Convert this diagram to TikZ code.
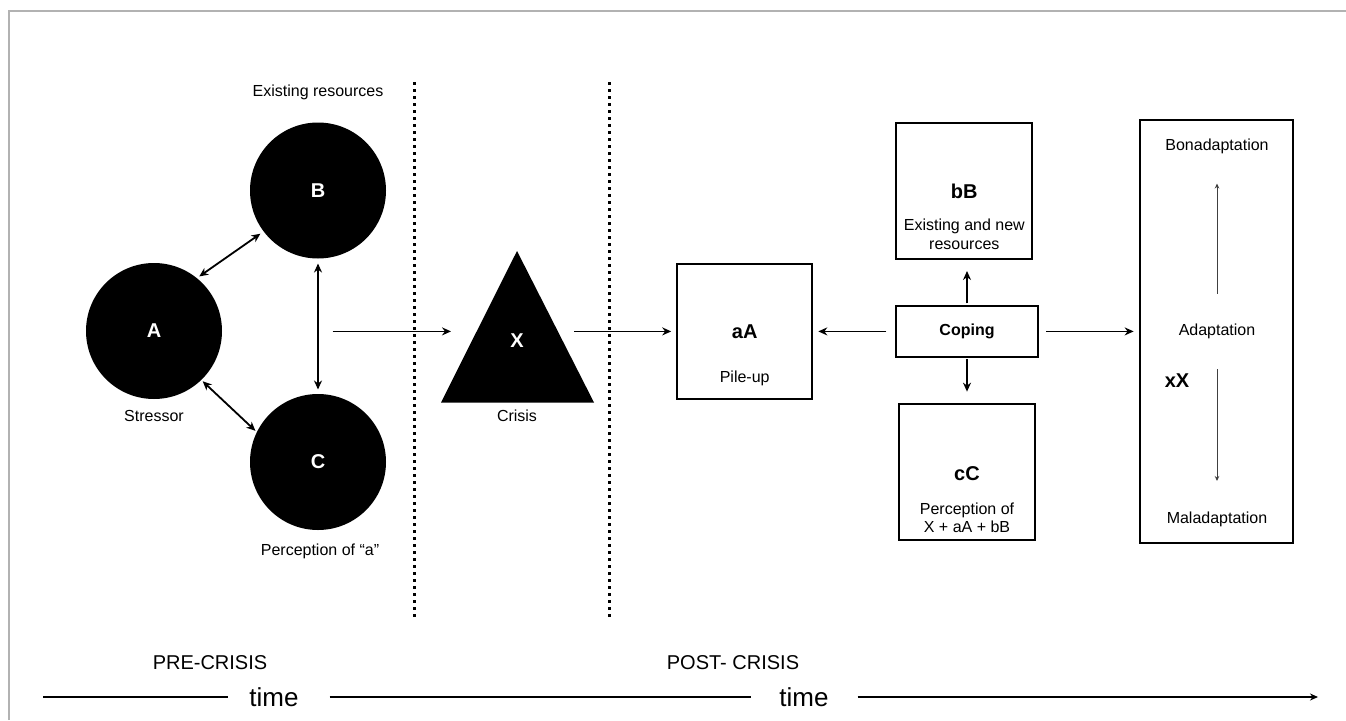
\documentclass[tikz,border=0pt]{standalone}
\usepackage{fontspec}
\setmainfont{Liberation Sans}
\usetikzlibrary{arrows.meta}
\begin{document}
\begin{tikzpicture}[x=1pt,y=-1pt,
  every node/.style={inner sep=0pt, outer sep=0pt},
  ball/.style={circle, fill=black, minimum size=136pt, text=white,
    font=\fontsize{20}{20}\selectfont\bfseries},
  lbl/.style={font=\fontsize{16}{19}\selectfont, align=center},
  big/.style={font=\fontsize{20}{22}\selectfont\bfseries},
  boxnode/.style={draw, line width=2pt},
  conn/.style={line width=1.8pt, -{Stealth[length=9pt,width=8pt]}},
  biconn/.style={line width=1.8pt, {Stealth[length=9pt,width=8pt]}-{Stealth[length=9pt,width=8pt]}},
  finearrow/.style={line width=1pt, draw=black!75, -{Stealth[length=5pt,width=4.5pt]}},
  sepline/.style={line width=3pt, dash pattern=on 3pt off 4pt},
  era/.style={font=\fontsize{20}{22}\selectfont},
  timelbl/.style={font=\fontsize{26}{28}\selectfont},
  axis/.style={line width=2.2pt},
]
\useasboundingbox (0,0) rectangle (1346,720);

% outer frame
\draw[line width=2pt, draw=black!30] (9,720) -- (9,11) -- (1346,11);

% phase separators
\draw[sepline] (414,82) -- (414,618);
\draw[sepline] (609,82) -- (609,618);

% pre-crisis factors
\node[ball] (A) at (154,331) {A};
\node[ball] (B) at (318,190.5) {B};
\node[ball] (C) at (318,462) {C};
\node[lbl] (Blbl) at (318,92.5) {Existing resources};
\node[lbl] (Albl) at (154,415.5) {Stressor};
\node[lbl] (Clbl) at (320,551) {Perception of “a”};

\draw[biconn, shorten <=3pt, shorten >=4pt] (A.51) -- (B.217);
\draw[biconn, shorten <=2pt, shorten >=2pt] (A.-46) -- (C.154);
\draw[biconn, shorten <=5pt, shorten >=4.5pt] (B.south) -- (C.north);

% crisis
\fill (517,251) -- (594,402.5) -- (441,402.5) -- cycle;
\node[text=white, font=\fontsize{20}{20}\selectfont\bfseries] (X) at (517,341) {X};
\node[lbl] (Xlbl) at (517,415.5) {Crisis};

\coordinate (preout) at (332.5,331.4);
\coordinate (xin) at (451,331.4);
\coordinate (xout) at (574,331.4);
\draw[conn] (preout) -- (xin);

% post-crisis boxes
\node[boxnode, minimum width=135.6pt, minimum height=135.3pt] (aA) at (744.5,331.4) {};
\node[big] (aAt) at (744.7,332) {aA};
\node[lbl] (aAl) at (744.7,378.5) {Pile-up};

\node[boxnode, minimum width=136pt, minimum height=136pt] (bB) at (964.3,190.7) {};
\node[big] (bBt) at (964.3,191.7) {bB};
\node[lbl] (bBl) at (964.3,234.2) {Existing and new\\resources};

\node[boxnode, minimum width=136.3pt, minimum height=136.3pt] (cC) at (967.2,471.8) {};
\node[big] (cCt) at (967,473.3) {cC};
\node[lbl, font=\fontsize{16}{18.4}\selectfont] (cCl) at (967,517.5) {Perception of\\X + aA + bB};

\node[boxnode, minimum width=141.4pt, minimum height=50.7pt,
  font=\fontsize{16}{18}\selectfont\bfseries] (cop) at (967,331.4) {Coping};

\node[boxnode, minimum width=153.3pt, minimum height=422.7pt] (adapt) at (1216.3,331.4) {};
\node[lbl] (bona) at (1217,146) {Bonadaptation};
\node[lbl] (ada) at (1217,331) {Adaptation};
\node[lbl] (mala) at (1217,519) {Maladaptation};
\node[big] (xX) at (1177,380.5) {xX};

\coordinate (upa) at (1217,293.5);
\coordinate (upb) at (1217,183.5);
\coordinate (dna) at (1217,369);
\coordinate (dnb) at (1217,481);
\draw[finearrow] (upa) -- (upb);
\draw[finearrow] (dna) -- (dnb);

\draw[conn, shorten >=5.5pt] (xout) -- (aA.west);
\draw[conn, shorten <=10pt, shorten >=6pt] (cop.west) -- (aA.east);
\draw[conn, shorten <=2.7pt, shorten >=12.3pt] (cop.north) -- (cop.north |- bB.south);
\draw[conn, shorten <=2.7pt, shorten >=12pt] (cop.south) -- (cop.south |- cC.north);
\draw[conn, shorten <=8.5pt, shorten >=6pt] (cop.east) -- (adapt.west);

% time axis
\node[era] (pre) at (210,663) {PRE-CRISIS};
\node[era] (post) at (733,663) {POST- CRISIS};
\node[timelbl] (t1) at (274,697) {time};
\node[timelbl] (t2) at (804,697) {time};
\coordinate (tstart) at (43,697);
\coordinate (tend) at (1318,697);
\draw[axis, shorten >=21pt] (tstart) -- (t1.west |- tstart);
\draw[axis, shorten <=31pt, shorten >=28pt] (t1.east |- tstart) -- (t2.west |- tstart);
\draw[axis, shorten <=29pt, -{Stealth[length=8pt,width=7pt]}] (t2.east |- tstart) -- (tend);
\end{tikzpicture}
\end{document}
